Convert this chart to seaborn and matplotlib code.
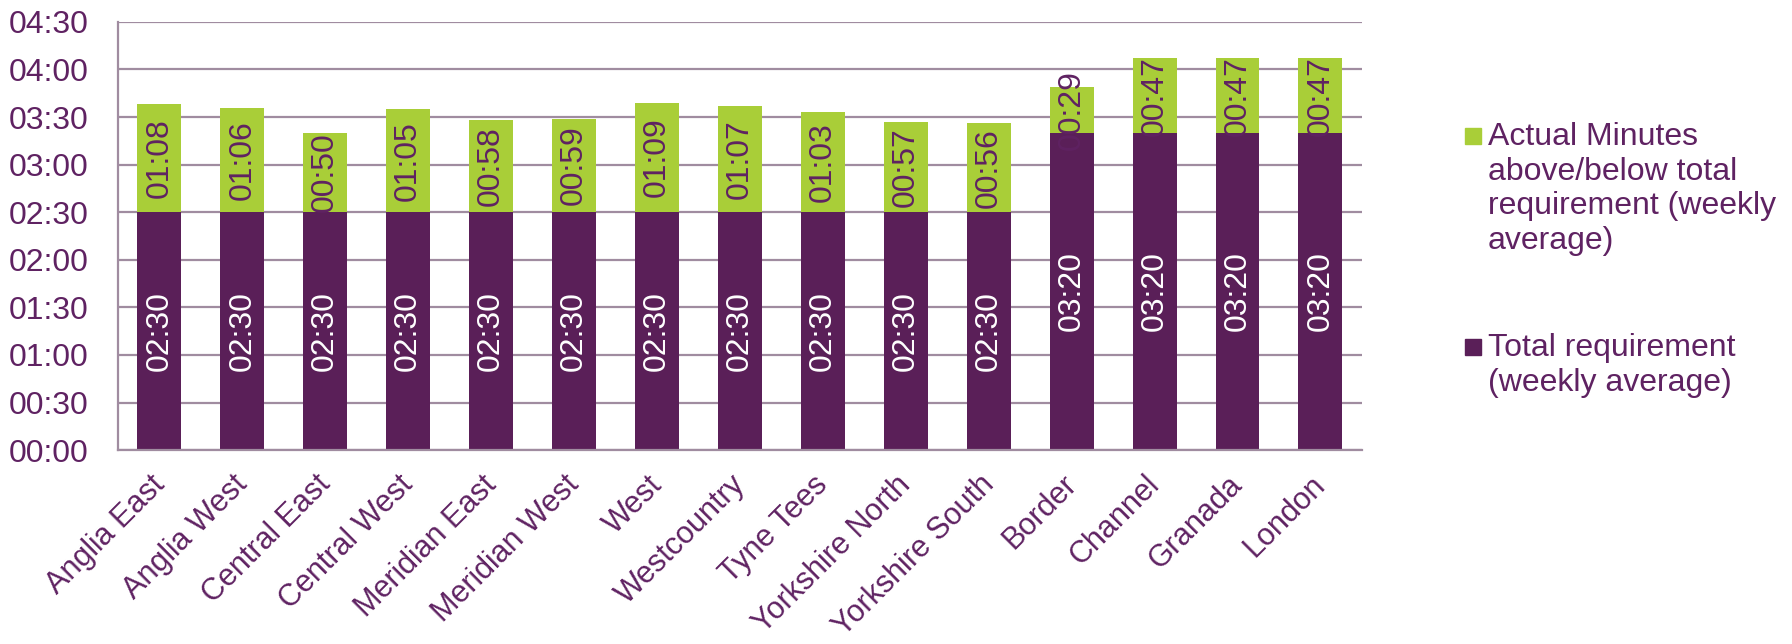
import matplotlib
matplotlib.use("Agg")
import matplotlib.pyplot as plt
import matplotlib.transforms as mtransforms
import numpy as np
import pandas as pd
import seaborn as sns
from matplotlib.patches import Rectangle

regions = [
    "Anglia East", "Anglia West", "Central East", "Central West", "Meridian East",
    "Meridian West", "West", "Westcountry", "Tyne Tees", "Yorkshire North",
    "Yorkshire South", "Border", "Channel", "Granada", "London",
]
# minutes per week (weekly average)
requirement = [150] * 11 + [200] * 4
actual_extra = [68, 66, 50, 65, 58, 59, 69, 67, 63, 57, 56, 29, 47, 47, 47]

legend_labels = [
    "Actual Minutes\nabove/below total\nrequirement (weekly\naverage)",
    "Total requirement\n(weekly average)",
]

PURPLE = "#5a1f58"
GREEN = "#a9ce38"
TEXT = "#5f2262"
GRID = "#a08ca0"
FS = 23


def hhmm(m):
    m = int(round(m))
    return f"{m // 60:02d}:{m % 60:02d}"


df = pd.DataFrame({"region": regions, "req": requirement, "extra": actual_extra})
df["total"] = df["req"] + df["extra"]

sns.set_style("white")
plt.rcParams["font.family"] = ["Liberation Sans", "DejaVu Sans"]

fig = plt.figure(figsize=(17.92, 6.44), dpi=100)
ax = fig.add_axes([0.0658, 0.301, 0.6942, 0.665])

sns.barplot(data=df, x="region", y="total", color=GREEN, saturation=1,
            width=0.53, ax=ax, linewidth=0)
sns.barplot(data=df, x="region", y="req", color=PURPLE, saturation=1,
            width=0.53, ax=ax, linewidth=0)

green_bars, purple_bars = ax.containers[0], ax.containers[1]
ax.bar_label(purple_bars, labels=[hhmm(v) for v in df["req"]], label_type="center",
             rotation=90, color="white", fontsize=FS)
for bar, req, extra in zip(green_bars, df["req"], df["extra"]):
    ax.text(bar.get_x() + bar.get_width() / 2, req + extra / 2, hhmm(extra),
            rotation=90, ha="center", va="center", color=TEXT, fontsize=FS)

ax.set_ylim(0, 270)
ax.set_xlim(-0.5, len(regions) - 0.5)
ax.set_yticks(np.arange(0, 271, 30))
ax.yaxis.set_major_formatter(lambda v, _: hhmm(v))
ax.yaxis.grid(True, color=GRID, linewidth=1.6)
ax.set_axisbelow(True)
ax.set_xlabel("")
ax.set_ylabel("")

ax.set_xticks(np.arange(len(regions)))
ax.set_xticklabels(regions, rotation=45, ha="right", va="top", rotation_mode="anchor")
ax.set_xticks(np.arange(-0.5, len(regions)), minor=True)
ax.tick_params(axis="x", which="major", length=0, pad=14, labelsize=22, labelcolor=TEXT)
ax.tick_params(axis="x", which="minor", length=9, width=1.6, color=GRID, direction="out")
ax.tick_params(axis="y", length=9, width=1.6, color=GRID, direction="out",
               pad=12, labelsize=FS, labelcolor=TEXT)
shift = mtransforms.ScaledTranslation(-10 / 100, 0, fig.dpi_scale_trans)
for lbl in ax.get_xticklabels():
    lbl.set_transform(lbl.get_transform() + shift)

for side in ["top", "right"]:
    ax.spines[side].set_visible(False)
for side in ["left", "bottom"]:
    ax.spines[side].set_color(GRID)
    ax.spines[side].set_linewidth(1.6)

# legend, square aligned with first text line
W, H = 1792, 644
for label, color, ytop in zip(legend_labels, [GREEN, PURPLE], [128, 339]):
    fig.patches.append(Rectangle((1465 / W, 1 - (ytop + 16) / H), 16 / W, 16 / H,
                                 transform=fig.transFigure, color=color))
    fig.text(1488 / W, 1 - (ytop - 6) / H, label, ha="left", va="top",
             fontsize=FS, color=TEXT, linespacing=1.2)

fig.savefig("out.png", dpi=100)
